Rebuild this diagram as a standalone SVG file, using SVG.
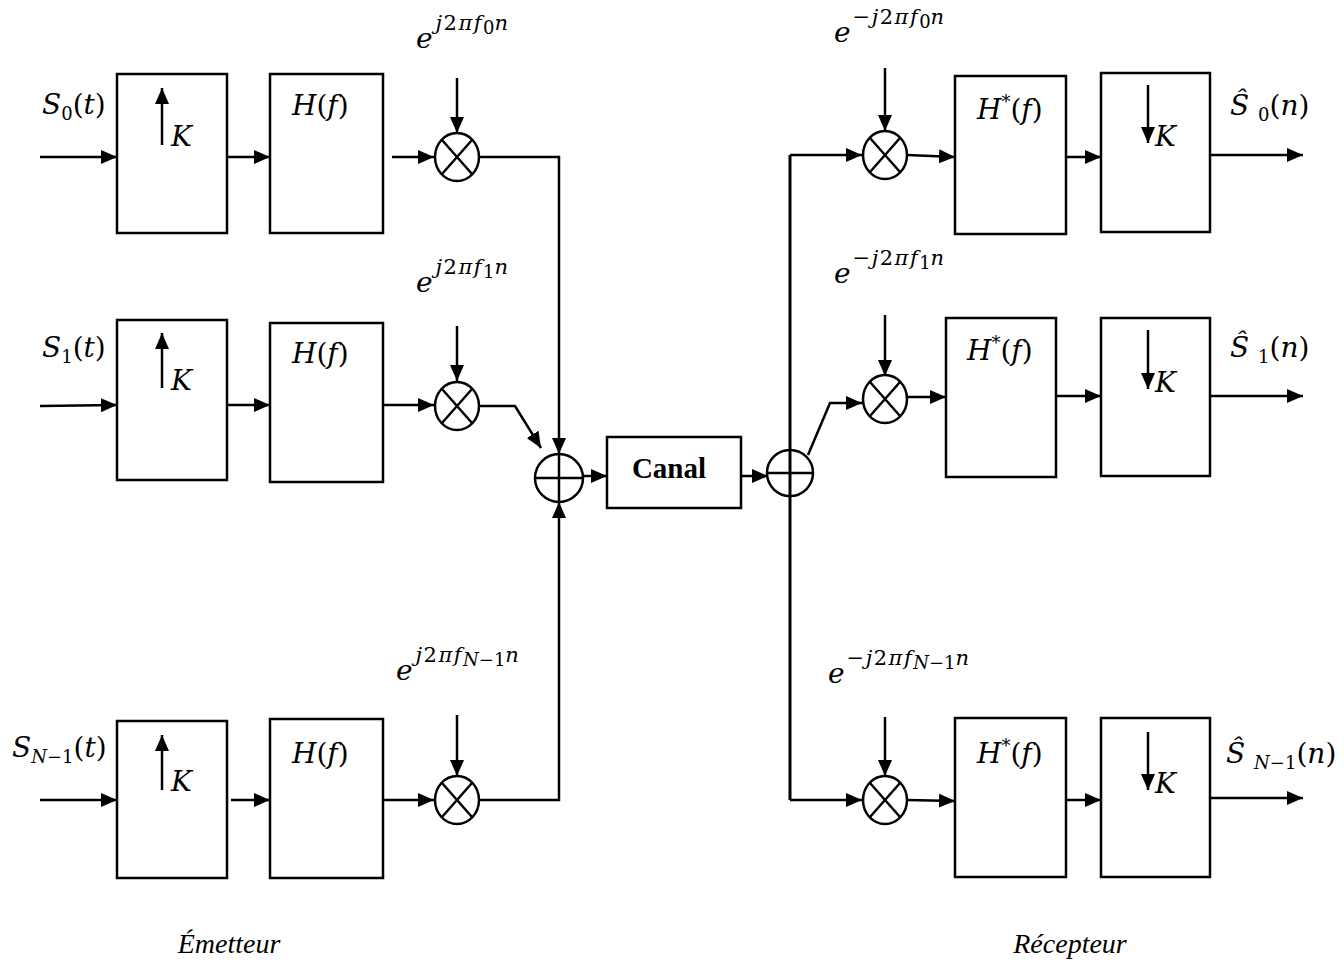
<svg xmlns="http://www.w3.org/2000/svg" width="1344" height="960" viewBox="0 0 1344 960">
<defs>
<style>
.b{fill:#fff;stroke:#000;stroke-width:2.5}
.l{fill:none;stroke:#000;stroke-width:2.5}
.a{fill:none;stroke:#000;stroke-width:2.5;marker-end:url(#ah)}
.m{font-family:'DejaVu Serif',serif;font-size:28px;font-style:italic;fill:#000}
.u{font-style:normal}
.sp{font-size:21px;letter-spacing:1.5px}
.sb{font-size:18px}
.t{font-family:'Liberation Serif','Times New Roman','DejaVu Serif',serif;font-size:28px;font-style:italic;fill:#000}
.c{font-family:'Liberation Serif','DejaVu Serif',serif;font-size:29px;font-weight:bold;fill:#000}
</style>
<marker id="ah" markerWidth="16" markerHeight="14" refX="16" refY="7" orient="auto" markerUnits="userSpaceOnUse"><path d="M0,0 L16,7 L0,14 Z" fill="#000"/></marker>
<g id="mult"><ellipse cx="0" cy="0" rx="22" ry="24" class="b"/><path d="M-15,-17 L15,17 M15,-17 L-15,17" class="l"/></g>
<g id="sum"><circle cx="0" cy="0" r="24" class="b"/><path d="M-24,0 H24 M0,-24 V24" class="l"/></g>
</defs>
<rect width="1344" height="960" fill="#fff"/>

<g id="connectors">
<line x1="40" y1="157" x2="117" y2="157" class="a"/>
<line x1="227" y1="157" x2="270" y2="157" class="a"/>
<line x1="392" y1="157" x2="434" y2="157" class="a"/>
<line x1="457" y1="78" x2="457" y2="133" class="a"/>
<polyline points="479,157 559,157 559,454" class="a"/>
<line x1="40" y1="406" x2="117" y2="405" class="a"/>
<line x1="227" y1="405" x2="270" y2="405" class="a"/>
<line x1="383" y1="405" x2="434" y2="405" class="a"/>
<line x1="457" y1="326" x2="457" y2="381" class="a"/>
<polyline points="479,406 515,406 541,448" class="a"/>
<line x1="40" y1="800" x2="117" y2="800" class="a"/>
<line x1="231" y1="800" x2="270" y2="800" class="a"/>
<line x1="383" y1="800" x2="434" y2="800" class="a"/>
<line x1="457" y1="715" x2="457" y2="776" class="a"/>
<polyline points="479,800 559,800 559,502" class="a"/>
<line x1="583" y1="476" x2="607" y2="476" class="a"/>
<line x1="741" y1="476" x2="768" y2="476" class="a"/>
<line x1="790" y1="155" x2="790" y2="800" class="l" style="stroke-width:3"/>
<polyline points="790,155 862,155" class="a"/>
<line x1="885" y1="68" x2="885" y2="131" class="a"/>
<line x1="907" y1="155" x2="955" y2="157" class="a"/>
<line x1="1066" y1="157" x2="1101" y2="157" class="a"/>
<line x1="1210" y1="155" x2="1303" y2="155" class="a"/>
<polyline points="808,455 830,403 862,403" class="a"/>
<line x1="885" y1="315" x2="885" y2="376" class="a"/>
<line x1="907" y1="397" x2="946" y2="397" class="a"/>
<line x1="1056" y1="396" x2="1101" y2="396" class="a"/>
<line x1="1210" y1="396" x2="1303" y2="396" class="a"/>
<polyline points="790,800 862,800" class="a"/>
<line x1="885" y1="717" x2="885" y2="776" class="a"/>
<line x1="907" y1="800" x2="955" y2="801" class="a"/>
<line x1="1066" y1="800" x2="1101" y2="800" class="a"/>
<line x1="1210" y1="798" x2="1303" y2="798" class="a"/>
</g>

<g id="s0"><text class="m" x="42" y="114">S<tspan class="u sb" dy="6">0</tspan><tspan class="u" dy="-6">(</tspan>t<tspan class="u">)</tspan></text></g>
<g id="up0"><rect x="117" y="74" width="110" height="159" class="b"/><line x1="162" y1="145" x2="162" y2="88" class="a"/><text class="m" x="171" y="146">K</text></g>
<g id="h0"><rect x="270" y="74" width="113" height="159" class="b"/><text class="m" x="292" y="115">H<tspan class="u">(</tspan>f<tspan class="u">)</tspan></text></g>
<g id="e0"><text class="m" x="416" y="48">e<tspan class="sp" dx="3" dy="-18">j<tspan class="u">2</tspan>πf</tspan><tspan class="u sb" dy="4">0</tspan><tspan class="sp" dy="-4">n</tspan></text></g>
<g id="x0"><use href="#mult" x="457" y="157"/></g>

<g id="s1"><text class="m" x="42" y="357">S<tspan class="u sb" dy="6">1</tspan><tspan class="u" dy="-6">(</tspan>t<tspan class="u">)</tspan></text></g>
<g id="up1"><rect x="117" y="320" width="110" height="160" class="b"/><line x1="162" y1="388" x2="162" y2="333" class="a"/><text class="m" x="171" y="390">K</text></g>
<g id="h1"><rect x="270" y="323" width="113" height="159" class="b"/><text class="m" x="292" y="363">H<tspan class="u">(</tspan>f<tspan class="u">)</tspan></text></g>
<g id="e1"><text class="m" x="416" y="292">e<tspan class="sp" dx="3" dy="-18">j<tspan class="u">2</tspan>πf</tspan><tspan class="u sb" dy="4">1</tspan><tspan class="sp" dy="-4">n</tspan></text></g>
<g id="x1"><use href="#mult" x="457" y="406"/></g>

<g id="sN"><text class="m" x="12" y="757">S<tspan class="sb" dy="6">N<tspan class="u">−1</tspan></tspan><tspan class="u" dy="-6">(</tspan>t<tspan class="u">)</tspan></text></g>
<g id="upN"><rect x="117" y="721" width="110" height="157" class="b"/><line x1="162" y1="790" x2="162" y2="735" class="a"/><text class="m" x="171" y="791">K</text></g>
<g id="hN"><rect x="270" y="719" width="113" height="159" class="b"/><text class="m" x="292" y="763">H<tspan class="u">(</tspan>f<tspan class="u">)</tspan></text></g>
<g id="eN"><text class="m" x="396" y="680">e<tspan class="sp" dx="3" dy="-18">j<tspan class="u">2</tspan>πf</tspan><tspan class="sb" dy="4">N<tspan class="u">−1</tspan></tspan><tspan class="sp" dy="-4">n</tspan></text></g>
<g id="xN"><use href="#mult" x="457" y="800"/></g>

<g id="sumTx"><use href="#sum" x="559" y="478"/></g>
<g id="canal"><rect x="607" y="437" width="134" height="71" class="b"/><text class="c" x="669" y="478" text-anchor="middle">Canal</text></g>
<g id="sumRx"><circle cx="790" cy="473" r="23" class="b"/><line x1="767" y1="473" x2="813" y2="473" class="l"/><line x1="790" y1="450" x2="790" y2="496" class="l" style="stroke-width:3"/></g>

<g id="re0"><text class="m" x="834" y="42">e<tspan class="sp" dx="2" dy="-18"><tspan class="u">−</tspan>j<tspan class="u">2</tspan>πf</tspan><tspan class="u sb" dy="4">0</tspan><tspan class="sp" dy="-4">n</tspan></text></g>
<g id="rx0"><use href="#mult" x="885" y="155"/></g>
<g id="hc0"><rect x="955" y="76" width="111" height="158" class="b"/><text class="m" x="977" y="119">H<tspan class="u sb" dy="-11">*</tspan><tspan class="u" dy="11">(</tspan>f<tspan class="u">)</tspan></text></g>
<g id="dn0"><rect x="1101" y="73" width="109" height="159" class="b"/><line x1="1148" y1="85" x2="1148" y2="143" class="a"/><text class="m" x="1155" y="146">K</text></g>
<g id="o0"><text class="m" x="1230" y="115">Ŝ <tspan class="u sb" dy="6">0</tspan><tspan class="u" dy="-6">(</tspan>n<tspan class="u">)</tspan></text></g>

<g id="re1"><text class="m" x="834" y="283">e<tspan class="sp" dx="2" dy="-18"><tspan class="u">−</tspan>j<tspan class="u">2</tspan>πf</tspan><tspan class="u sb" dy="4">1</tspan><tspan class="sp" dy="-4">n</tspan></text></g>
<g id="rx1"><use href="#mult" x="885" y="399"/></g>
<g id="hc1"><rect x="946" y="318" width="110" height="159" class="b"/><text class="m" x="967" y="360">H<tspan class="u sb" dy="-11">*</tspan><tspan class="u" dy="11">(</tspan>f<tspan class="u">)</tspan></text></g>
<g id="dn1"><rect x="1101" y="318" width="109" height="158" class="b"/><line x1="1148" y1="330" x2="1148" y2="389" class="a"/><text class="m" x="1155" y="392">K</text></g>
<g id="o1"><text class="m" x="1230" y="357">Ŝ <tspan class="u sb" dy="6">1</tspan><tspan class="u" dy="-6">(</tspan>n<tspan class="u">)</tspan></text></g>

<g id="reN"><text class="m" x="828" y="683">e<tspan class="sp" dx="2" dy="-18"><tspan class="u">−</tspan>j<tspan class="u">2</tspan>πf</tspan><tspan class="sb" dy="4">N<tspan class="u">−1</tspan></tspan><tspan class="sp" dy="-4">n</tspan></text></g>
<g id="rxN"><use href="#mult" x="885" y="800"/></g>
<g id="hcN"><rect x="955" y="718" width="111" height="159" class="b"/><text class="m" x="977" y="763">H<tspan class="u sb" dy="-11">*</tspan><tspan class="u" dy="11">(</tspan>f<tspan class="u">)</tspan></text></g>
<g id="dnN"><rect x="1101" y="718" width="109" height="159" class="b"/><line x1="1148" y1="732" x2="1148" y2="790" class="a"/><text class="m" x="1155" y="793">K</text></g>
<g id="oN"><text class="m" x="1226" y="763">Ŝ <tspan class="sb" dy="6">N<tspan class="u">−1</tspan></tspan><tspan class="u" dy="-6">(</tspan>n<tspan class="u">)</tspan></text></g>

<g id="labels">
<text class="t" x="229" y="953" text-anchor="middle">Émetteur</text>
<text class="t" x="1070" y="953" text-anchor="middle">Récepteur</text>
</g>
</svg>
